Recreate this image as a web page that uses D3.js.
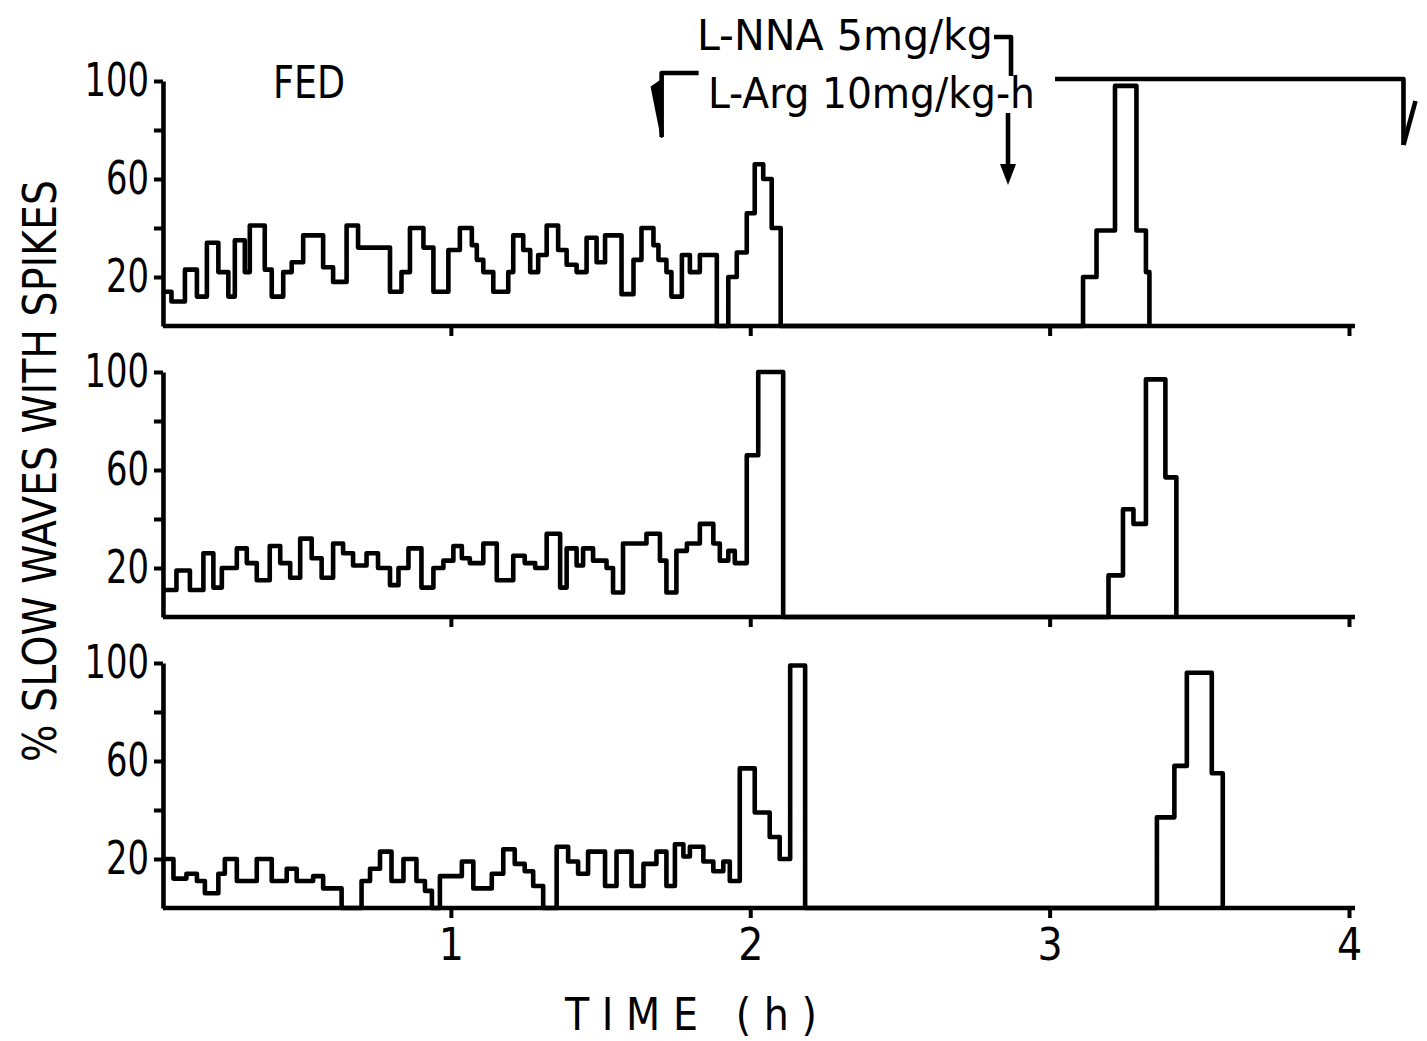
<!DOCTYPE html>
<meta charset="utf-8">
<head>
<style>
  body { margin: 0; background: #fff; }
  svg text { font-family: 'Liberation Sans Narrow', 'DejaVu Sans Condensed', 'Roboto', sans-serif; fill: #000; }
</style>
</head>
<body>
<div class="chart"></div>
<script src="https://d3js.org/d3.v7.min.js" charset="utf-8"></script>
<script>
// step traces: [start minute, % slow waves with spikes]; value holds until next start
const trace1 = [
  [2.4,14],[4.0,10],[6.7,23],[9.1,12],[11.1,34],[13.4,22],[15.4,12],[16.7,35],[18.7,22],[19.7,41],
  [22.7,23],[24.1,12],[26.4,22],[28.1,26],[30.4,37],[34.4,24],[36.4,18],[39.1,41],[41.4,32],[47.8,14],
  [50.1,22],[51.8,40],[54.5,32],[56.5,14],[59.5,31],[61.8,40],[64.2,33],[65.2,27],[66.5,22],[68.5,14],
  [71.5,22],[72.5,37],[74.5,31],[75.9,22],[77.5,29],[79.2,41],[81.5,31],[83.2,25],[85.2,22],[87.2,36],
  [89.2,26],[90.9,37],[94.2,13],[96.6,27],[98.2,40],[100.6,33],[101.6,27],[103.2,22],[104.2,12],[106.3,29],
  [107.9,22],[109.9,29],[113.3,0],[115.6,20],[117.3,30],[119.3,46],[120.9,66],[122.6,60],[124.3,40],[126.1,0],
  [186.7,20],[189.4,39],[193.1,98],[197.4,39],[199.3,22],[200.0,0]
];
const trace2 = [
  [2.4,11],[5.0,19],[7.7,11],[10.4,26],[12.4,12],[14.1,20],[17.1,28],[19.1,22],[21.1,15],[23.7,29],
  [25.8,22],[27.8,16],[29.8,32],[32.1,24],[34.1,16],[36.4,30],[38.4,26],[40.4,21],[43.1,26],[45.4,20],
  [47.8,13],[49.5,20],[51.5,28],[54.1,12],[56.5,20],[58.5,23],[60.5,29],[62.2,24],[63.8,22],[66.5,30],
  [69.2,15],[72.5,25],[74.8,22],[76.9,20],[79.2,34],[81.9,12],[83.2,28],[85.2,21],[86.5,28],[88.5,23],
  [91.2,20],[92.5,10],[94.5,30],[99.2,34],[101.9,23],[103.2,10],[105.2,27],[107.3,30],[109.9,38],[112.6,30],
  [113.9,23],[115.6,27],[116.9,22],[119.3,66],[121.6,100],[126.6,0],
  [191.8,17],[194.7,44],[196.8,38],[199.3,97],[203.2,57],[205.4,0]
];
const trace3 = [
  [2.4,20],[4.4,12],[7.0,14],[9.1,11],[10.7,6],[13.4,14],[14.7,20],[17.1,11],[21.1,20],[24.1,11],
  [27.1,16],[29.1,11],[32.4,13],[34.4,8],[38.1,0],[42.1,11],[43.8,16],[45.8,23],[48.1,11],[50.5,20],
  [53.1,11],[54.8,7],[56.2,0],[57.8,13],[62.2,19],[64.5,8],[68.2,14],[70.5,24],[72.8,18],[74.8,15],
  [76.5,9],[78.5,0],[81.2,25],[83.5,19],[85.5,14],[87.5,23],[90.9,9],[93.2,23],[96.2,9],[98.6,18],
  [101.2,23],[103.2,9],[104.9,26],[106.6,21],[107.9,25],[110.6,19],[112.6,15],[114.6,19],[115.9,11],[117.9,57],
  [120.9,39],[123.9,29],[125.9,20],[128.0,99],[131.0,0],
  [201.5,37],[205.0,58],[207.5,96],[212.5,55],[214.7,0]
];
const traces = [trace1, trace2, trace3];

const yTicks = [20, 40, 60, 80, 100];
const yLabels = [20, 60, 100];
const xTicks = [1, 2, 3, 4];
const startMin = 2.3;   // recording starts just after 0
const endHour = 4.02;

// drug annotations (hours)
const argStart = 1.704, argEnd = 4.182, nnaBolus = 2.861, argLineResume = 3.018;

const width = 1427, height = 1041;
const baselines = [326, 617, 908];
const panelH = 245;
const stroke = 4.6;

const svg = d3.select('.chart').append('svg')
  .attr('width', width)
  .attr('height', height);

const x = d3.scaleLinear().domain([0, 4]).range([151.5, 1349]);
const x0 = x(startMin / 60);

const line = d3.line()
  .curve(d3.curveStepAfter);

traces.forEach((tr, i) => {
  const base = baselines[i];
  const y = d3.scaleLinear().domain([0, 100]).range([base, base - panelH]);
  const g = svg.append('g');

  // x axis
  const xa = g.append('g')
    .attr('transform', `translate(0, ${base})`)
    .call(d3.axisBottom(x).tickValues(xTicks).tickSize(10).tickSizeOuter(0).tickPadding(11)
      .tickFormat(i === 2 ? d3.format('d') : () => ''));
  xa.select('.domain').remove();
  xa.selectAll('.tick line').attr('stroke', '#000').attr('stroke-width', 4);
  xa.selectAll('.tick text').attr('font-size', 44).attr('fill', '#000');
  g.append('line')
    .attr('x1', x0).attr('x2', x(endHour))
    .attr('y1', base).attr('y2', base)
    .attr('stroke', '#000').attr('stroke-width', stroke);

  // y axis
  const ya = g.append('g')
    .attr('transform', `translate(${x0}, 0)`)
    .call(d3.axisLeft(y).tickValues(yTicks).tickSize(9).tickSizeOuter(0).tickPadding(5)
      .tickFormat(d => yLabels.includes(d) ? d : ''));
  ya.select('.domain').attr('stroke', '#000').attr('stroke-width', stroke);
  ya.selectAll('.tick line').attr('stroke', '#000').attr('stroke-width', 4);
  ya.selectAll('.tick text')
    .attr('font-size', 46)
    .attr('fill', '#000')
    .each(function(d) {
      if (yLabels.includes(d)) {
        d3.select(this).attr('textLength', String(d).length * 21.5).attr('lengthAdjust', 'spacingAndGlyphs');
      }
    });

  // step trace
  g.append('path')
    .datum(tr)
    .attr('fill', 'none')
    .attr('stroke', '#000')
    .attr('stroke-width', stroke)
    .attr('stroke-linejoin', 'round')
    .attr('d', line.x(d => x(d[0] / 60)).y(d => y(d[1])));
});

// FED label
svg.append('text')
  .attr('x', 273).attr('y', 98)
  .attr('font-size', 44)
  .attr('textLength', 72).attr('lengthAdjust', 'spacingAndGlyphs')
  .text('FED');

// drug labels
svg.append('text')
  .attr('x', 697).attr('y', 50)
  .attr('font-size', 42)
  .attr('textLength', 296).attr('lengthAdjust', 'spacingAndGlyphs')
  .text('L-NNA 5mg/kg');
svg.append('text')
  .attr('x', 708).attr('y', 108)
  .attr('font-size', 42)
  .attr('textLength', 327).attr('lengthAdjust', 'spacingAndGlyphs')
  .text('L-Arg 10mg/kg-h');

const ann = svg.append('g')
  .attr('fill', 'none')
  .attr('stroke', '#000')
  .attr('stroke-width', stroke)
  .attr('stroke-linejoin', 'round');

// L-NNA bolus bracket and arrow
const xb = x(nnaBolus);
ann.append('path').attr('d', `M${xb - 14},37 H${xb + 3} V76`);
ann.append('path').attr('d', `M${xb},113 V168`);
svg.append('path')
  .attr('d', `M${xb - 8},164 L${xb + 8},164 L${xb},185 Z`)
  .attr('fill', '#000');

// L-Arg infusion bracket
const xs = x(argStart), xe = x(argEnd);
ann.append('path').attr('d', `M${xs + 37},73 H${xs} V137`);
svg.append('path')
  .attr('d', `M${xs - 10},87 L${xs},80 L${xs},137 Z`)
  .attr('fill', '#000').attr('stroke', '#000').attr('stroke-width', 2).attr('stroke-linejoin', 'round');
ann.append('path').attr('d', `M${x(argLineResume)},79 H${xe} V145`);
ann.append('path').attr('d', `M${xe + 12},101 L${xe},145`);

// axis titles
svg.append('text')
  .attr('x', 565).attr('y', 1030)
  .attr('font-size', 44)
  .attr('textLength', 252).attr('lengthAdjust', 'spacing')
  .text('TIME (h)');

svg.append('text')
  .attr('transform', 'translate(56, 471) rotate(-90)')
  .attr('text-anchor', 'middle')
  .attr('font-size', 47)
  .attr('textLength', 582).attr('lengthAdjust', 'spacingAndGlyphs')
  .text('% SLOW WAVES WITH SPIKES');
</script>
</body>
